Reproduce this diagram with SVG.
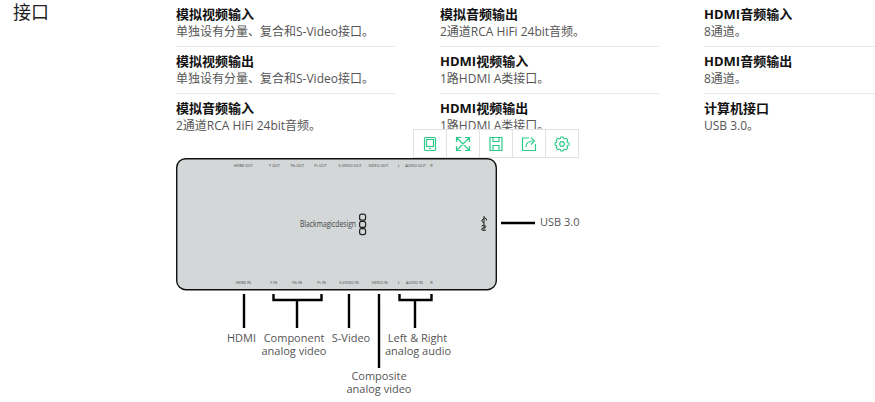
<svg xmlns="http://www.w3.org/2000/svg" width="875" height="402" viewBox="0 0 875 402">
<style>
text{font-family:"Open Sans","Noto Sans CJK SC",sans-serif}
.h{font-size:18px;fill:#222}
.t{font-size:13px;font-weight:700;fill:#111}
.d{font-size:12px;fill:#555}
.div{stroke:#e8e8e8;stroke-width:1}
.p{font-size:3.800px;fill:#444;text-anchor:middle}
.c{stroke:#000;stroke-width:2.400;fill:none}
.l{font-size:11px;fill:#555;text-anchor:middle}
.i{fill:none;stroke:#2fcb8c;stroke-width:1.200}
.tb{fill:none;stroke:#dfe3e3;stroke-width:1}
</style>
<rect width="875" height="402" fill="#fff"/>
<text class="h" x="13" y="19">接口</text>
<g id="specs">
<text class="t" x="176" y="19">模拟视频输入</text><text class="d" x="176" y="36">单独设有分量、复合和S-Video接口。</text>
<line class="div" x1="176" y1="46.500" x2="395" y2="46.500"/>
<text class="t" x="176" y="66">模拟视频输出</text><text class="d" x="176" y="83">单独设有分量、复合和S-Video接口。</text>
<line class="div" x1="176" y1="93.500" x2="395" y2="93.500"/>
<text class="t" x="176" y="113">模拟音频输入</text><text class="d" x="176" y="130">2通道RCA HiFi 24bit音频。</text>
<text class="t" x="440" y="19">模拟音频输出</text><text class="d" x="440" y="36">2通道RCA HiFi 24bit音频。</text>
<line class="div" x1="440" y1="46.500" x2="659" y2="46.500"/>
<text class="t" x="440" y="66">HDMI视频输入</text><text class="d" x="440" y="83">1路HDMI A类接口。</text>
<line class="div" x1="440" y1="93.500" x2="659" y2="93.500"/>
<text class="t" x="440" y="113">HDMI视频输出</text><text class="d" x="440" y="130">1路HDMI A类接口。</text>
<text class="t" x="704" y="19">HDMI音频输入</text><text class="d" x="704" y="36">8通道。</text>
<line class="div" x1="704" y1="46.500" x2="875" y2="46.500"/>
<text class="t" x="704" y="66">HDMI音频输出</text><text class="d" x="704" y="83">8通道。</text>
<line class="div" x1="704" y1="93.500" x2="875" y2="93.500"/>
<text class="t" x="704" y="113">计算机接口</text><text class="d" x="704" y="130">USB 3.0。</text>
</g>
<g id="device">
<rect x="176.700" y="158.700" width="319.600" height="131" rx="9" fill="#d3d7d8" stroke="#111" stroke-width="1.400"/>
<text class="p" x="243.500" y="167.300">HDMI OUT</text><text class="p" x="274.500" y="167.300">Y OUT</text><text class="p" x="297.500" y="167.300">Pb OUT</text><text class="p" x="320.500" y="167.300">Pr OUT</text><text class="p" x="350" y="167.300">S-VIDEO OUT</text><text class="p" x="378.500" y="167.300">VIDEO OUT</text><text class="p" x="399" y="167.300">L</text><text class="p" x="415.500" y="167.300">AUDIO OUT</text><text class="p" x="431.500" y="167.300">R</text>
<text class="p" x="243.500" y="283.800">HDMI IN</text><text class="p" x="273.500" y="283.800">Y IN</text><text class="p" x="297" y="283.800">Pb IN</text><text class="p" x="321.500" y="283.800">Pr IN</text><text class="p" x="349" y="283.800">S-VIDEO IN</text><text class="p" x="379.500" y="283.800">VIDEO IN</text><text class="p" x="399" y="283.800">L</text><text class="p" x="414.500" y="283.800">AUDIO IN</text><text class="p" x="431.500" y="283.800">R</text>
<text x="300" y="227" font-size="9.200" fill="#444" textLength="56" lengthAdjust="spacingAndGlyphs">Blackmagicdesign</text>
<g fill="none" stroke="#222" stroke-width="1.200"><rect x="359.600" y="214.200" width="6" height="6" rx="2"/><rect x="359.600" y="221.400" width="6" height="6" rx="2"/><rect x="359.600" y="228.600" width="6" height="6" rx="2"/></g>
<path d="M484 216V230M484 218.500l-2 1.500V221.500l2 1.500M484 217.500l2.500 1.500V220.500M481.500 226c2-1.300 4.500-.5 4.500 .8s-4.500 .8-4.500 2.200 2.500 2 4.500 1" fill="none" stroke="#222" stroke-width="1"/>
</g>
<g id="connectors">
<path class="c" d="M244 294V328M273.500 294V300H321.500V294M297 300V328M349 294V328M379 294V368M399.500 294V300H431.500V294M415 300V328M501 223H535"/>
</g>
<g id="labels">
<text class="l" x="241.500" y="342">HDMI</text>
<text class="l" x="294" y="342">Component</text><text class="l" x="294" y="355">analog video</text>
<text class="l" x="351" y="342">S-Video</text>
<text class="l" x="417.500" y="342">Left &amp; Right</text><text class="l" x="418" y="355">analog audio</text>
<text class="l" x="379" y="380">Composite</text><text class="l" x="379" y="393">analog video</text>
<text x="540" y="226" font-size="11" fill="#555">USB 3.0</text>
</g>
<g id="toolbar">
<rect x="413.500" y="129.500" width="165" height="28" fill="#fff" stroke="#dfe3e3"/>
<path class="tb" d="M446.500 129.500V157.500M479.500 129.500V157.500M512.500 129.500V157.500M545.500 129.500V157.500"/>
<g class="i">
<rect x="424.500" y="137.500" width="11" height="13" rx="1"/><rect x="426.500" y="139.500" width="7" height="7"/><path d="M429 148.500h2"/>
<path d="M457 138l12 12M469 138l-12 12M465 137.500h4.500V142M469.500 146v4.500H465M456.500 142v-4.500H461M456.500 146v4.500H461"/>
<path d="M490 137.500h12v13h-12zM493 137.500v4h6v-4M493 150.500v-5h6v5"/>
<path d="M529 138h-6.500v12.500h13V144M526 147c0-4 3-6 7-6M531 137.500l3.500 3.500-3.500 3.500"/>
<circle cx="562" cy="144" r="2.300"/>
<path transform="translate(562 144) scale(.78) translate(-562 -144) translate(0 -2.500)" stroke-width="1.400" d="M560.500 137.500h3l.5 1.800 1.600.7 1.700-.9 2.100 2.100-.9 1.700.7 1.600 1.800.5v3l-1.800.5-.7 1.600.9 1.700-2.100 2.100-1.700-.9-1.600.7-.5 1.800h-3l-.5-1.800-1.600-.7-1.700.9-2.100-2.100.9-1.700-.7-1.600-1.800-.5v-3l1.800-.5.7-1.600-.9-1.700 2.100-2.100 1.700.9 1.600-.7z"/>
</g>
</g>
</svg>
